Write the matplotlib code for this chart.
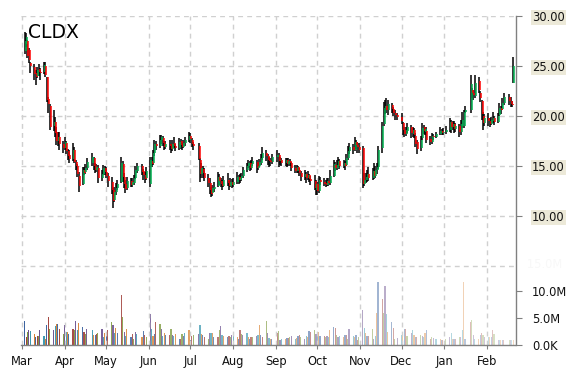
import matplotlib
matplotlib.use("Agg")
import matplotlib.pyplot as plt
import matplotlib.dates as mdates
import numpy as np
import pandas as pd

ticker = "CLDX"
holidays = ["2014-04-18", "2014-05-26", "2014-07-04", "2014-09-01", "2014-11-27",
            "2014-12-25", "2015-01-01", "2015-01-19", "2015-02-16"]
month_labels = ["Mar", "Apr", "May", "Jun", "Jul", "Aug", "Sep", "Oct", "Nov", "Dec", "Jan", "Feb"]
month_starts = ["2014-03-01", "2014-04-01", "2014-05-01", "2014-06-01", "2014-07-01", "2014-08-01",
                "2014-09-01", "2014-10-01", "2014-11-01", "2014-12-01", "2015-01-01", "2015-02-01"]
price_ticks = [10, 15, 20, 25, 30]
price_tick_labels = ["10.00", "15.00", "20.00", "25.00", "30.00"]
volume_ticks = [0, 5, 10]
volume_tick_labels = ["0.0K", "5.0M", "10.0M"]

opens = [
    26.5,27.2,27.5,26.6,25.3,24.9,24.3,24.0,24.7,24.4,24.4,25.0,23.9,21.7,21.0,19.0,19.4,18.4,17.5,17.9,17.2,
    16.8,17.3,16.5,16.1,15.7,16.6,15.4,15.0,14.0,13.2,14.6,14.4,14.8,15.3,15.8,15.0,14.6,14.8,13.8,14.2,14.8,
    14.4,14.0,13.4,12.6,11.6,12.4,12.8,13.4,15.2,13.9,13.2,12.8,13.5,13.1,13.3,13.8,14.5,15.0,14.5,14.1,13.8,
    13.2,15.5,15.3,16.3,17.2,17.0,17.6,17.8,17.3,16.9,17.2,17.0,16.7,17.3,17.0,16.8,17.5,17.1,16.9,17.3,17.6,
    18.0,17.6,17.2,17.0,15.6,14.2,14.7,14.3,13.8,13.3,12.6,12.3,12.7,13.0,13.9,13.5,13.2,13.0,13.6,13.3,13.0,13.4,
    13.1,13.4,13.9,13.6,13.8,14.0,14.6,15.0,15.3,14.8,15.2,15.4,14.8,15.0,15.3,15.8,16.3,16.0,15.6,15.5,15.4,
    15.9,16.1,15.5,15.6,15.3,15.6,15.2,15.5,15.3,14.8,14.5,14.9,14.6,14.3,13.9,14.2,13.8,14.1,13.7,13.5,12.6,
    13.2,12.5,13.6,13.4,13.3,13.1,13.5,13.3,14.0,15.1,14.8,15.0,15.5,15.0,15.3,15.1,15.8,16.5,16.9,16.6,17.4,17.1,16.9,
    16.8,13.2,13.6,13.8,14.2,13.8,14.5,14.0,14.6,14.9,16.8,19.2,20.8,21.0,20.6,21.1,20.7,20.3,20.1,
    19.9,19.3,18.6,18.2,18.5,18.9,18.2,18.6,18.0,17.4,16.8,17.8,18.9,18.4,18.5,17.7,17.4,18.0,17.9,18.2,18.5,18.3,
    18.4,18.6,19.4,18.9,19.2,18.7,19.0,18.4,19.0,19.0,20.4,20.6,22.6,22.3,22.0,23.5,22.3,21.5,20.0,19.3,
    19.8,19.5,19.2,19.5,19.8,19.4,20.1,20.8,20.7,21.3,21.9,21.5,21.2,23.3,
]
highs = [
    28.4,28.3,27.6,26.8,25.4,25.2,24.6,24.9,25.2,24.8,25.4,25.4,23.9,21.9,21.2,20.6,19.9,18.9,18.4,18.4,17.5,
    17.9,17.5,16.7,16.6,17.3,16.9,15.6,15.2,14.4,14.9,14.9,15.2,15.8,16.3,15.9,15.3,15.2,15.1,14.6,15.1,15.0,
    14.9,14.3,13.9,12.8,12.9,13.3,13.6,15.9,15.5,14.3,13.6,13.9,13.8,13.8,14.1,15.0,15.3,15.2,14.7,14.4,14.9,
    15.9,15.9,16.6,17.6,17.5,18.1,18.1,18.0,17.5,17.5,17.6,17.2,17.6,17.9,17.2,17.8,17.7,17.3,17.6,17.9,18.4,
    18.3,17.8,17.4,17.3,15.8,15.3,15.0,14.8,14.2,13.8,12.9,13.1,13.4,14.4,14.2,13.8,13.6,14.0,14.3,13.5,13.8,13.7,
    13.8,14.4,14.1,14.2,14.3,14.9,15.3,15.6,15.5,15.6,15.9,15.6,15.4,15.7,16.2,16.9,16.6,16.2,15.9,15.8,16.2,
    16.6,16.3,15.9,15.8,15.8,15.8,15.8,15.7,15.4,15.1,15.1,15.0,14.8,14.5,14.6,14.4,14.5,14.2,14.0,14.1,13.6,
    13.4,14.0,13.9,13.8,13.6,13.8,13.8,14.6,15.6,15.4,15.6,15.9,15.7,15.6,15.5,16.2,17.0,17.3,17.2,17.9,17.6,17.4,17.3,
    17.0,14.3,14.3,14.6,14.9,14.8,15.3,15.0,15.3,17.0,19.4,21.4,21.6,21.8,21.6,21.3,20.9,20.6,20.3,
    20.3,19.4,18.9,18.9,19.3,19.1,18.9,18.8,18.3,17.6,18.0,19.3,19.1,18.9,18.9,18.0,18.3,18.2,18.4,18.9,18.7,18.8,
    19.0,19.8,19.6,19.5,19.5,19.3,19.2,19.6,20.4,20.6,21.0,24.1,22.8,22.6,24.1,23.9,22.5,21.6,20.4,20.2,
    20.3,19.8,19.9,20.4,20.0,20.3,21.3,21.0,21.8,22.3,22.2,21.9,21.5,25.9,
]
lows = [
    26.2,26.9,25.8,25.3,24.3,23.6,23.1,23.8,24.0,23.6,24.2,23.9,21.4,20.3,18.6,18.5,17.9,17.1,17.0,16.6,16.3,
    16.6,16.2,15.6,15.3,15.5,15.3,14.6,13.9,12.4,13.1,14.1,14.2,14.6,15.0,14.6,14.3,14.4,13.3,13.5,14.1,14.1,
    13.8,12.9,12.2,10.8,11.4,12.1,12.6,13.3,13.4,12.8,12.3,12.6,12.9,12.9,13.1,13.7,14.3,14.1,13.6,13.3,13.6,
    12.9,14.9,15.1,16.0,16.6,16.8,17.2,17.0,16.6,16.7,16.6,16.3,16.5,16.8,16.5,16.6,16.7,16.6,16.8,17.0,17.4,
    17.3,16.9,16.6,15.6,13.4,13.8,13.8,13.5,12.9,12.2,11.9,12.0,12.4,12.9,13.1,12.9,12.6,12.9,13.0,12.6,12.9,12.8,
    12.9,13.2,13.2,13.3,13.5,13.8,14.4,14.8,14.5,14.6,15.0,14.3,14.6,14.9,15.1,15.6,15.5,15.1,14.9,15.0,15.2,
    15.4,14.9,15.1,15.0,15.0,14.9,15.0,15.0,14.5,14.3,14.3,14.3,14.0,13.5,13.6,13.3,13.6,13.4,13.1,12.6,12.1,
    12.1,12.3,13.1,13.0,12.9,13.0,13.0,13.1,13.9,14.5,14.6,14.9,14.7,14.8,14.6,15.0,15.6,16.2,16.2,16.5,16.7,16.3,16.3,
    12.8,13.0,13.3,13.4,13.5,13.6,13.7,13.8,14.2,14.7,16.3,19.0,20.2,20.3,20.1,20.3,20.0,19.6,19.6,
    19.2,18.1,17.9,18.0,18.3,17.8,17.9,17.8,16.9,16.2,16.5,17.6,18.2,18.1,17.3,17.1,17.2,17.6,17.8,18.1,18.1,18.1,
    18.2,18.4,18.3,18.6,18.3,18.4,17.9,18.1,18.8,18.8,20.3,20.3,21.8,21.6,21.8,22.3,21.4,19.6,18.6,19.0,
    19.0,18.9,19.1,19.3,19.1,19.3,20.0,20.2,20.6,21.1,21.1,20.9,20.9,23.3,
]
closes = [
    27.5,27.9,26.0,25.6,25.0,24.2,23.9,24.6,24.4,24.3,25.1,24.1,21.6,21.2,18.9,19.4,18.3,17.5,17.9,17.2,16.8,
    17.4,16.5,16.0,15.7,16.6,15.4,15.0,14.2,13.0,14.6,14.3,14.8,15.4,15.9,15.0,14.6,14.9,13.8,14.2,14.8,14.4,
    14.0,13.5,12.6,11.5,12.4,12.8,13.2,15.3,13.9,13.2,12.7,13.5,13.1,13.4,13.8,14.6,15.0,14.4,14.1,13.7,14.5,
    15.6,15.2,16.3,17.2,17.0,17.6,17.9,17.3,16.9,17.2,17.0,16.7,17.2,17.0,16.8,17.4,17.1,16.9,17.3,17.6,18.0,
    17.7,17.2,17.0,15.7,14.2,14.8,14.3,13.8,13.3,12.6,12.2,12.8,12.9,13.9,13.5,13.2,13.0,13.6,13.3,13.0,13.4,13.1,
    13.4,13.9,13.6,13.8,14.0,14.6,15.0,15.3,14.8,15.2,15.5,14.8,15.0,15.4,15.8,16.3,16.0,15.6,15.5,15.4,15.9,
    16.1,15.5,15.6,15.3,15.6,15.2,15.5,15.3,14.8,14.5,14.9,14.6,14.3,13.9,14.2,13.8,14.1,13.7,13.5,12.8,13.2,
    12.5,13.6,13.4,13.2,13.1,13.5,13.3,14.0,15.2,14.8,15.1,15.5,15.0,15.3,15.0,15.8,16.5,16.9,16.6,17.4,17.1,16.9,16.6,
    13.2,13.6,13.9,14.2,13.8,14.5,14.0,14.6,14.9,16.6,19.0,20.8,21.0,20.6,21.2,20.7,20.3,20.1,19.9,
    19.5,18.6,18.2,18.6,18.9,18.3,18.6,18.1,17.2,16.7,17.6,18.8,18.5,18.7,17.6,17.4,18.0,17.9,18.2,18.5,18.3,18.4,
    18.6,19.4,18.9,19.2,18.7,19.0,18.4,19.2,19.6,20.4,20.6,23.2,22.3,22.1,23.3,22.6,21.8,20.2,19.3,19.8,
    19.5,19.2,19.6,19.8,19.4,20.0,20.8,20.6,21.3,21.9,21.5,21.2,21.1,25.0,
]
volumes_m = [
    4.4,1.5,2.5,2.7,2.6,2.0,1.5,1.7,1.7,2.8,1.7,1.1,3.7,5.2,3.0,2.7,3.6,3.9,3.9,3.0,2.0,
    3.7,2.5,2.5,2.0,3.0,2.7,4.4,2.7,4.1,3.3,2.5,2.0,3.0,2.7,1.9,1.9,2.0,2.3,3.0,1.4,2.3,
    2.0,2.8,4.3,3.7,2.2,3.1,2.2,9.3,5.1,2.5,1.7,3.0,1.4,2.0,1.2,2.5,2.0,1.5,2.6,1.9,1.5,
    5.7,2.9,1.7,2.0,4.3,3.8,3.0,1.7,2.3,1.9,1.9,3.0,1.9,1.7,2.0,1.2,1.2,2.0,1.7,2.3,2.7,
    0.9,1.6,1.8,2.0,3.7,2.0,1.9,1.4,1.2,2.2,2.2,2.3,1.5,1.4,2.8,3.6,1.9,1.6,1.5,1.7,1.5,1.9,
    1.7,1.5,1.2,2.8,2.0,1.8,2.2,1.4,1.2,1.4,1.5,1.7,1.9,3.7,1.9,1.4,4.4,2.3,1.3,1.1,1.2,
    2.2,2.6,1.0,1.2,1.2,1.3,1.3,1.4,1.7,1.2,1.3,1.7,1.8,1.4,1.2,1.6,1.5,2.6,2.4,2.7,2.0,
    2.0,2.5,1.7,1.7,1.5,1.6,1.5,2.8,3.3,3.1,1.9,1.5,1.7,1.4,1.9,1.9,1.2,3.0,1.7,1.5,1.9,0.9,1.4,
    6.4,3.1,2.3,1.7,1.7,3.0,1.2,1.7,6.0,11.7,8.6,6.0,11.0,5.7,2.5,4.2,3.2,1.1,1.3,
    1.9,1.7,3.0,2.9,1.7,2.3,2.7,1.9,1.5,1.5,1.9,1.7,1.5,2.2,2.8,1.1,1.4,1.3,1.1,1.1,1.0,0.9,
    1.1,1.4,2.2,1.2,1.1,1.2,1.5,1.5,2.8,11.7,1.2,4.2,4.6,1.9,1.1,1.1,1.9,2.2,1.9,1.4,
    1.4,1.4,1.5,2.7,2.0,0.9,1.0,0.9,0.9,0.9,0.9,1.0,1.0,0.9,
]

# ---- trading calendar ----
dates = pd.bdate_range("2014-03-03", "2015-02-20")
dates = dates[~dates.isin(pd.to_datetime(holidays))]
n = min(len(dates), len(opens), len(highs), len(lows), len(closes), len(volumes_m))
xd = mdates.date2num(dates[:n])
o = np.array(opens[:n]); h = np.array(highs[:n]); l = np.array(lows[:n]); c = np.array(closes[:n])
v = np.array(volumes_m[:n])

W, H = 570, 370
fig = plt.figure(figsize=(W / 100, H / 100), dpi=100)
fig.patch.set_facecolor("white")
left_px, right_px, top_px, bot_px = 21, 515.5, 16, 345
rect = [left_px / W, 1 - bot_px / H, (right_px - left_px) / W, (bot_px - top_px) / H]

x0 = mdates.date2num(pd.Timestamp("2014-03-01"))
xlim = (x0 - 0.7, x0 + 357.6)
vmax = (bot_px - top_px) / 5.4

# volume axes (underneath)
vax = fig.add_axes(rect, zorder=0)
vax.set_xlim(*xlim)
vax.set_ylim(0, vmax)
palette = ["#3b63a0", "#a0403a", "#7f9a3e", "#6a4f8e", "#3a98b0", "#d8802f"]
alphas = np.linspace(1.0, 0.28, n)
for i in range(n):
    vax.bar(xd[i], v[i], width=0.85, color=palette[i % len(palette)], alpha=alphas[i], linewidth=0)
for s in ["left", "top", "bottom", "right"]:
    vax.spines[s].set_visible(False)
vax.set_xticks([])
vax.yaxis.tick_right()
vax.set_yticks(volume_ticks)
vax.set_yticklabels(volume_tick_labels)
vax.tick_params(axis="y", which="both", length=4, color="#808080", labelsize=8.3,
                labelcolor="#111111", pad=8)
vax.text(1.0, 15, "   15.0M", transform=vax.get_yaxis_transform(),
         ha="left", va="center", fontsize=8.3, color="#f8f8f8")

# price axes (on top)
ax = fig.add_axes(rect, zorder=1)
ax.patch.set_visible(False)
ax.set_xlim(*xlim)
ax.set_ylim(30 - (bot_px - top_px) / 10.0, 30)

grid_kw = dict(color="#d0d0d0", lw=1.0, linestyle=(0, (3.5, 3)), zorder=0.5)
for p in [30, 25, 20, 15, 10, 5]:
    ax.axhline(p, **grid_kw)
month_x = mdates.date2num(pd.to_datetime(month_starts))
for mx in month_x:
    ax.axvline(mx, **grid_kw)

# candles
up = c >= o
ax.vlines(xd, l, h, colors="black", lw=1.1, zorder=3)
body_lo = np.minimum(o, c); body_hi = np.maximum(o, c)
body_hi = np.where(body_hi - body_lo < 0.05, body_lo + 0.05, body_hi)
ax.vlines(xd + 0.72, body_lo, body_hi, colors=np.where(up, "#00b050", "#ff0000"), lw=1.1, zorder=3)

for s in ["left", "top"]:
    ax.spines[s].set_visible(False)
ax.spines["right"].set_color("#808080")
ax.spines["bottom"].set_color("#808080")
ax.spines["right"].set_linewidth(1.0)
ax.spines["bottom"].set_linewidth(1.0)

ax.set_xticks(month_x)
ax.set_xticklabels(month_labels)
ax.tick_params(axis="x", length=3, color="#808080", labelsize=8.3, labelcolor="#111111", pad=4)

ax.yaxis.tick_right()
ax.set_yticks(price_ticks)
ax.set_yticklabels(price_tick_labels)
ax.tick_params(axis="y", length=4, color="#808080", labelsize=8.3, labelcolor="#111111", pad=8)
for lab in ax.get_yticklabels():
    lab.set_bbox(dict(facecolor="#ECE9D8", edgecolor="none", pad=1.0))

fig.text(28 / W, 1 - 23 / H, ticker, fontsize=13.5, va="top", ha="left", color="#000000")

fig.savefig("out.png", dpi=100, facecolor="white")
